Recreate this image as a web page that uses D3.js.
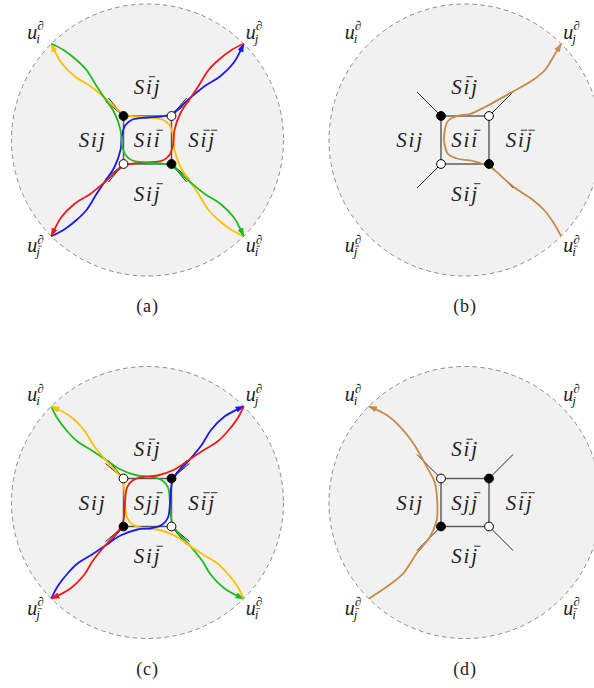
<!DOCTYPE html>
<html>
<head>
<meta charset="utf-8">
<script src="https://cdnjs.cloudflare.com/ajax/libs/d3/7.8.5/d3.min.js"></script>
<style>body{margin:0;background:#fff;}</style>
</head>
<body>
<script>
var width = 594, height = 688;
var R = 136, half = 24;

// panel centres and captions
var centers = [[147.5, 140], [465, 140], [147.5, 502.5], [465, 502.5]];
var captions = ["(a)", "(b)", "(c)", "(d)"];

// face labels, "'" puts a bar over the letter before it
var regionTop = "Si'j", regionLeft = "Sij", regionRight = "Si'j'", regionBottom = "Sij'";
var regionCenter = ["Sii'", "Sii'", "Sjj'", "Sjj'"];

// boundary labels u^∂ with these subscripts
var cornerSubs = { TL: "i", TR: "j", BL: "j'", BR: "i'" };

// vertex colours, order TL, TR, BL, BR (1 = black)
var dotFill = [[1, 0, 0, 1], [1, 0, 0, 1], [0, 1, 1, 0], [0, 1, 1, 0]];

// base strand (green in a): TL -> left side -> bottom side -> BR
var pathA = [[-96.2, -96.2], [-84, -90], [-71, -80], [-61, -70], [-51, -54], [-44, -43.5],
  [-33, -27], [-27, -10], [-25.5, 5], [-22, 15], [-15, 20.5], [0, 22.5], [14, 23.5],
  [24, 26], [42, 41.5], [58, 54.5], [72.5, 63.5], [86, 77], [96.2, 96.2]];

// zig-zag path in (b): BR -> inside square -> TR
var brownB = [[96.2, 96.2], [88, 82], [80, 71], [68, 60], [48, 46.5], [25, 27], [8, 21],
  [-8, 18.5], [-17, 14], [-20.5, 4], [-20.5, -8], [-17, -19], [-8, -24], [5, -26],
  [20, -33], [48, -48.5], [68, -60], [80, -70], [90, -86], [96.2, -96.2]];

// zig-zag path in (d): BL -> left of square -> TL
var brownD = [[-96.2, 96.2], [-78.3, 84.2], [-61.7, 70.8], [-48.3, 50.8], [-35, 34.2],
  [-28.3, 17.5], [-27.7, 0.8], [-30, -19.2], [-38.3, -35.8], [-51.7, -59.2],
  [-65, -75.8], [-78.3, -87.5], [-96.2, -96.2]];

var colors = { green: "#1fba1f", red: "#f01818", blue: "#1a1af0", yellow: "#ffc000", brown: "#c98a46" };

// strands of (a) and (c) as reflections of pathA
var strandsA = [
  { color: "yellow", fx: true, fy: true, swap: false },
  { color: "blue", fx: false, fy: true, swap: false },
  { color: "red", fx: true, fy: false, swap: false },
  { color: "green", fx: false, fy: false, swap: false }
];
var strandsC = [
  { color: "green", fx: false, fy: false, swap: true },
  { color: "yellow", fx: true, fy: true, swap: true },
  { color: "blue", fx: false, fy: true, swap: true },
  { color: "red", fx: true, fy: false, swap: true }
];

var FONT = "Liberation Serif";
var INK = "#222";

var svg = d3.select("body").append("svg")
  .attr("width", width)
  .attr("height", height);

var defs = svg.append("defs");
Object.keys(colors).forEach(function (name) {
  defs.append("marker")
    .attr("id", "arr-" + name)
    .attr("viewBox", "0 0 10 8")
    .attr("markerWidth", 9)
    .attr("markerHeight", 7.2)
    .attr("refX", 9)
    .attr("refY", 4)
    .attr("orient", "auto")
    .attr("markerUnits", "userSpaceOnUse")
    .append("path")
    .attr("d", "M0,0.6L10,4L0,7.4Z")
    .attr("fill", colors[name]);
});

function splitBars(str) {
  var chars = [], bars = [];
  for (var i = 0; i < str.length; i++) {
    if (str[i] === "'") bars.push(chars.length - 1);
    else chars.push(str[i]);
  }
  return { text: chars.join(""), bars: bars };
}

function bar(g, x1, x2, y, size) {
  g.append("line")
    .attr("x1", x1).attr("x2", x2)
    .attr("y1", y).attr("y2", y)
    .attr("stroke", INK)
    .attr("stroke-width", Math.max(0.8, size * 0.045));
}

function mathText(g, x, y, str, size, anchor, spacing, italic) {
  var s = splitBars(str);
  var t = g.append("text")
    .attr("x", x).attr("y", y)
    .attr("text-anchor", anchor)
    .style("font-family", FONT)
    .style("font-style", italic === false ? "normal" : "italic")
    .style("font-size", size + "px")
    .style("letter-spacing", spacing + "px")
    .attr("fill", INK)
    .text(s.text);
  s.bars.forEach(function (i) {
    var e = t.node().getExtentOfChar(i);
    bar(g, e.x + size * 0.14, e.x + e.width - spacing + size * 0.16, y - size * 0.8, size);
  });
  return t;
}

// u with ∂ above and the index below, stacked in one text element
function cornerLabel(g, ex, ey, pos) {
  var left = pos[1] === "L", top = pos[0] === "T";
  var x = left ? ex - 24 : ex + 2;
  var y = top ? ey - 5 : ey + 16;
  var s = splitBars(cornerSubs[pos]);
  var t = g.append("text")
    .attr("x", x).attr("y", y)
    .style("font-family", FONT)
    .style("font-style", "italic")
    .style("font-size", "20px")
    .attr("fill", INK);
  t.append("tspan").text("u");
  var w = t.node().getComputedTextLength();
  t.append("tspan").attr("x", x + w).attr("y", y - 8.5).style("font-size", "13px").text("\u2202");
  t.append("tspan").attr("x", x + w - 1).attr("y", y + 4).style("font-size", "13px").text(s.text);
  if (s.bars.length) {
    var e = t.node().getExtentOfChar(2);
    bar(g, e.x + 1.8, e.x + e.width + 1.8, y + 4 - 10, 13);
  }
}

function drawPanel(k) {
  var cx = centers[k][0], cy = centers[k][1];
  var x = d3.scaleLinear().domain([-R, R]).range([cx - R, cx + R]);
  var y = d3.scaleLinear().domain([-R, R]).range([cy - R, cy + R]);
  var g = svg.append("g");

  g.append("circle")
    .attr("cx", x(0)).attr("cy", y(0))
    .attr("r", x(R) - x(0))
    .attr("fill", "#f1f1f1")
    .attr("stroke", "#8c8c8c")
    .attr("stroke-width", 1)
    .attr("stroke-dasharray", "4.5,3.5");

  var corners = [[-half, -half], [half, -half], [-half, half], [half, half]];

  // legs
  corners.forEach(function (c) {
    var sx = Math.sign(c[0]), sy = Math.sign(c[1]);
    var ends = (k === 1 || k === 3)
      ? [[c[0] * 2, c[1] * 2]]
      : [[sx * 42, sy * 39], [sx * 39, sy * 42]];
    ends.forEach(function (e) {
      g.append("line")
        .attr("x1", x(c[0])).attr("y1", y(c[1]))
        .attr("x2", x(e[0])).attr("y2", y(e[1]))
        .attr("stroke", "#111")
        .attr("stroke-width", 0.9);
    });
  });

  g.append("rect")
    .attr("x", x(-half)).attr("y", y(-half))
    .attr("width", x(half) - x(-half))
    .attr("height", y(half) - y(-half))
    .attr("fill", "none")
    .attr("stroke", "#555")
    .attr("stroke-width", 1.4);

  // strands
  var strands = k === 0 ? strandsA : k === 2 ? strandsC : null;
  if (strands) {
    strands.forEach(function (s) {
      var xs = s.fx ? x.copy().range([cx + R, cx - R]) : x;
      var ys = s.fy ? y.copy().range([cy + R, cy - R]) : y;
      var line = d3.line()
        .x(function (p) { return xs(s.swap ? p[1] : p[0]); })
        .y(function (p) { return ys(s.swap ? p[0] : p[1]); })
        .curve(d3.curveCatmullRom.alpha(0.5));
      g.append("path")
        .attr("d", line(pathA))
        .attr("fill", "none")
        .attr("stroke", colors[s.color])
        .attr("stroke-width", 1.8)
        .attr("marker-end", "url(#arr-" + s.color + ")");
    });
  } else {
    var line2 = d3.line()
      .x(function (p) { return x(p[0]); })
      .y(function (p) { return y(p[1]); })
      .curve(d3.curveCatmullRom.alpha(0.5));
    g.append("path")
      .attr("d", line2(k === 1 ? brownB : brownD))
      .attr("fill", "none")
      .attr("stroke", colors.brown)
      .attr("stroke-width", 1.8)
      .attr("marker-end", "url(#arr-brown)");
  }

  // vertices
  corners.forEach(function (c, i) {
    g.append("circle")
      .attr("cx", x(c[0])).attr("cy", y(c[1]))
      .attr("r", 4.4)
      .attr("fill", dotFill[k][i] ? "#000" : "#fff")
      .attr("stroke", "#000")
      .attr("stroke-width", 1);
  });

  // face labels
  var fs = 21, ls = 1.8;
  mathText(g, x(0), y(-53.5) + 7, regionTop, fs, "middle", ls);
  mathText(g, x(-55), y(0) + 7, regionLeft, fs, "middle", ls);
  mathText(g, x(0), y(0) + 7, regionCenter[k], fs, "middle", ls);
  mathText(g, x(54.5), y(0) + 7, regionRight, fs, "middle", ls);
  mathText(g, x(0), y(53.5) + 7, regionBottom, fs, "middle", ls);

  // boundary labels
  var d = R * Math.SQRT1_2;
  cornerLabel(g, x(-d), y(-d), "TL");
  cornerLabel(g, x(d), y(-d), "TR");
  cornerLabel(g, x(-d), y(d), "BL");
  cornerLabel(g, x(d), y(d), "BR");

  mathText(g, x(0), y(0) + 172, captions[k], 18, "middle", 0.8, false);
}

for (var k = 0; k < 4; k++) drawPanel(k);
</script>
</body>
</html>
